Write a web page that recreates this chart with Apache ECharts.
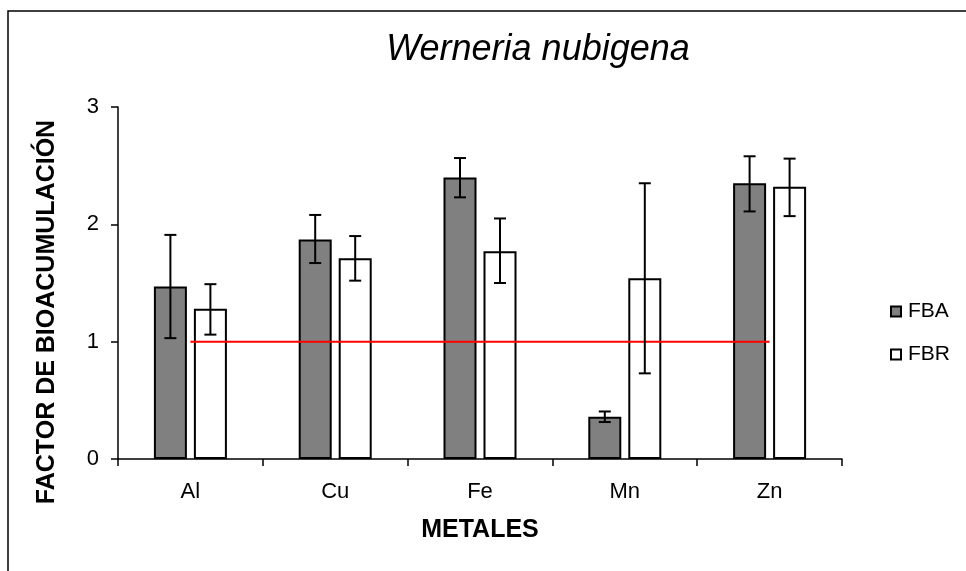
<!DOCTYPE html>
<html>
<head>
<meta charset="utf-8">
<script src="https://cdn.jsdelivr.net/npm/echarts@6/dist/echarts.min.js"></script>
<style>
html,body{margin:0;padding:0;background:#fff;}
#chart{width:966px;height:571px;}
</style>
</head>
<body>
<div id="chart"></div>
<script>
// ---- Data ----
var categories = ['Al', 'Cu', 'Fe', 'Mn', 'Zn'];
var fba = [1.47, 1.87, 2.40, 0.36, 2.35];
var fbaLow = [1.03, 1.67, 2.23, 0.315, 2.11];
var fbaHigh = [1.91, 2.08, 2.565, 0.405, 2.58];
var fbr = [1.28, 1.71, 1.77, 1.54, 2.32];
var fbrLow = [1.06, 1.52, 1.50, 0.73, 2.07];
var fbrHigh = [1.49, 1.90, 2.05, 2.35, 2.56];
var threshold = [1, 1, 1, 1, 1];
var yTicks = [0, 1, 2, 3];

var FONT = "'Liberation Sans', Arial, sans-serif";
var BAR_W = 33;
var BAR_GAP_PX = 7;
var OFFSET = (BAR_W + BAR_GAP_PX) / 2;

function errorSeries(low, high, dx) {
  return {
    type: 'custom',
    name: 'err',
    z: 10,
    encode: { x: 0, y: [1, 2] },
    data: low.map(function (l, i) { return [i, l, high[i]]; }),
    renderItem: function (params, api) {
      var i = api.value(0);
      var lo = api.coord([i, api.value(1)]);
      var hi = api.coord([i, api.value(2)]);
      var x = lo[0] + dx;
      var cap = 6;
      var st = { stroke: '#000', lineWidth: 2 };
      return {
        type: 'group',
        children: [
          { type: 'line', shape: { x1: x, y1: hi[1], x2: x, y2: lo[1] }, style: st },
          { type: 'line', shape: { x1: x - cap, y1: hi[1], x2: x + cap, y2: hi[1] }, style: st },
          { type: 'line', shape: { x1: x - cap, y1: lo[1], x2: x + cap, y2: lo[1] }, style: st }
        ]
      };
    }
  };
}

var chart = echarts.init(document.getElementById('chart'));
chart.setOption({
  animation: false,
  backgroundColor: '#fff',
  title: {
    text: 'Werneria nubigena',
    left: 533,
    top: 27,
    textAlign: 'center',
    textStyle: { fontFamily: FONT, fontSize: 36, fontStyle: 'italic', fontWeight: 'normal', color: '#000' }
  },
  graphic: [
    {
      type: 'rect', z: -1,
      shape: { x: 8, y: 11, width: 1000, height: 700 },
      style: { fill: 'none', stroke: '#000', lineWidth: 1.5 }
    },
    {
      type: 'text',
      x: 47, y: 312,
      rotation: Math.PI / 2,
      style: {
        text: 'FACTOR DE BIOACUMULACIÓN',
        fontFamily: FONT, fontSize: 25, fontWeight: 'bold', fill: '#000',
        align: 'center', verticalAlign: 'middle'
      }
    }
  ],
  legend: {
    data: ['FBA', 'FBR'],
    orient: 'vertical',
    left: 885,
    top: 296,
    icon: 'rect',
    itemWidth: 10,
    itemHeight: 10,
    itemGap: 22,
    textStyle: { fontFamily: FONT, fontSize: 21, color: '#000', padding: [0, 0, 0, 2] }
  },
  grid: { left: 118, right: 124, top: 107, bottom: 112, containLabel: false },
  xAxis: {
    type: 'category',
    data: categories,
    name: 'METALES',
    nameLocation: 'middle',
    nameGap: 59,
    nameTextStyle: { fontFamily: FONT, fontSize: 25, fontWeight: 'bold', color: '#000' },
    axisLine: { lineStyle: { color: '#000', width: 1.5 } },
    axisTick: { show: true, length: 7, lineStyle: { color: '#000', width: 1.5 } },
    axisLabel: { fontFamily: FONT, fontSize: 22, color: '#000', margin: 22 },
    splitLine: { show: false }
  },
  yAxis: {
    type: 'value',
    min: yTicks[0],
    max: yTicks[yTicks.length - 1],
    interval: 1,
    axisLine: { show: true, lineStyle: { color: '#000', width: 1.5 } },
    axisTick: { show: true, length: 7, lineStyle: { color: '#000', width: 1.5 } },
    axisLabel: { fontFamily: FONT, fontSize: 22, color: '#000', margin: 19 },
    splitLine: { show: false }
  },
  series: [
    {
      name: 'FBA', type: 'bar', data: fba,
      barWidth: BAR_W, barGap: (BAR_GAP_PX / BAR_W * 100) + '%',
      itemStyle: { color: '#808080', borderColor: '#000', borderWidth: 2 }
    },
    {
      name: 'FBR', type: 'bar', data: fbr,
      barWidth: BAR_W,
      itemStyle: { color: '#ffffff', borderColor: '#000', borderWidth: 2 }
    },
    {
      name: 'Umbral', type: 'line', data: threshold,
      symbol: 'none', z: 5,
      lineStyle: { color: '#ff0000', width: 2 }
    },
    errorSeries(fbaLow, fbaHigh, -OFFSET),
    errorSeries(fbrLow, fbrHigh, OFFSET)
  ]
});
</script>
</body>
</html>
